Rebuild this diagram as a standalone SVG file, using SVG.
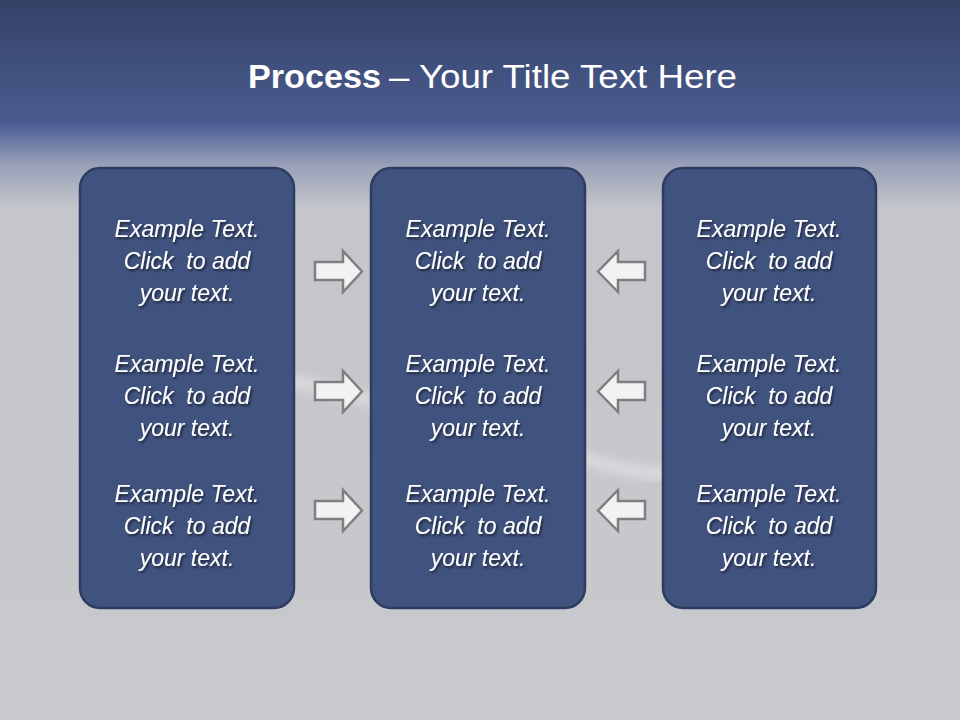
<svg xmlns="http://www.w3.org/2000/svg" width="960" height="720" viewBox="0 0 960 720">
<defs>
<linearGradient id="bg" x1="0" y1="0" x2="0" y2="1">
<stop offset="0" stop-color="#344267"/>
<stop offset="0.17" stop-color="#4a5c8f"/>
<stop offset="0.18" stop-color="#56679a"/>
<stop offset="0.23" stop-color="#9aa1b8"/>
<stop offset="0.29" stop-color="#c4c6cb"/>
<stop offset="1" stop-color="#c8c9cd"/>
</linearGradient>
<filter id="sh" x="-10%" y="-30%" width="130%" height="160%">
<feDropShadow dx="1.5" dy="2" stdDeviation="1.2" flood-color="#000" flood-opacity="0.55"/>
</filter>
<filter id="blur"><feGaussianBlur stdDeviation="4"/></filter>
<path id="ra" d="M0,11 H28 V0 L47,20.5 L28,41 V29 H0 Z"/>
<path id="la" d="M47,11 H20 V0 L0,20.5 L20,41 V29 H47 Z"/>
</defs>
<style>
.box{fill:#40527e;stroke:#2f3c62;stroke-width:2.5}
.t{font-family:"Liberation Sans",Arial,sans-serif;font-style:italic;font-size:23px;fill:#ffffff;text-anchor:middle;white-space:pre}
.arr{fill:#f2f2f2;stroke:#7f7f7f;stroke-width:2.5;stroke-linejoin:miter}
.title{font-family:"Liberation Sans",Arial,sans-serif;fill:#ffffff;font-size:34px}
</style>
<rect x="0" y="0" width="960" height="720" fill="url(#bg)"/>
<path d="M290,380 C360,400 480,420 560,450 C610,468 650,480 700,470" stroke="#ffffff" stroke-opacity="0.3" stroke-width="14" fill="none" filter="url(#blur)"/>
<text class="title" x="248" y="88" font-weight="bold" textLength="133" lengthAdjust="spacingAndGlyphs">Process</text>
<text class="title" x="389" y="88" textLength="348" lengthAdjust="spacingAndGlyphs">– Your Title Text Here</text>
<g id="box-left">
<rect class="box" x="80" y="168" width="214" height="440" rx="20"/>
<g filter="url(#sh)">
<text class="t" x="187" y="237">Example Text.</text>
<text class="t" x="187" y="269" xml:space="preserve">Click  to add</text>
<text class="t" x="187" y="301">your text.</text>
<text class="t" x="187" y="372">Example Text.</text>
<text class="t" x="187" y="404" xml:space="preserve">Click  to add</text>
<text class="t" x="187" y="436">your text.</text>
<text class="t" x="187" y="502">Example Text.</text>
<text class="t" x="187" y="534" xml:space="preserve">Click  to add</text>
<text class="t" x="187" y="566">your text.</text>
</g>
</g>
<g id="box-center">
<rect class="box" x="371" y="168" width="214" height="440" rx="20"/>
<g filter="url(#sh)">
<text class="t" x="478" y="237">Example Text.</text>
<text class="t" x="478" y="269" xml:space="preserve">Click  to add</text>
<text class="t" x="478" y="301">your text.</text>
<text class="t" x="478" y="372">Example Text.</text>
<text class="t" x="478" y="404" xml:space="preserve">Click  to add</text>
<text class="t" x="478" y="436">your text.</text>
<text class="t" x="478" y="502">Example Text.</text>
<text class="t" x="478" y="534" xml:space="preserve">Click  to add</text>
<text class="t" x="478" y="566">your text.</text>
</g>
</g>
<g id="box-right">
<rect class="box" x="663" y="168" width="213" height="440" rx="20"/>
<g filter="url(#sh)">
<text class="t" x="769" y="237">Example Text.</text>
<text class="t" x="769" y="269" xml:space="preserve">Click  to add</text>
<text class="t" x="769" y="301">your text.</text>
<text class="t" x="769" y="372">Example Text.</text>
<text class="t" x="769" y="404" xml:space="preserve">Click  to add</text>
<text class="t" x="769" y="436">your text.</text>
<text class="t" x="769" y="502">Example Text.</text>
<text class="t" x="769" y="534" xml:space="preserve">Click  to add</text>
<text class="t" x="769" y="566">your text.</text>
</g>
</g>
<g id="connectors">
<use href="#ra" class="arr" x="315" y="251"/>
<use href="#ra" class="arr" x="315" y="371"/>
<use href="#ra" class="arr" x="315" y="490"/>
<use href="#la" class="arr" x="598" y="251"/>
<use href="#la" class="arr" x="598" y="371"/>
<use href="#la" class="arr" x="598" y="490"/>
</g>
</svg>
